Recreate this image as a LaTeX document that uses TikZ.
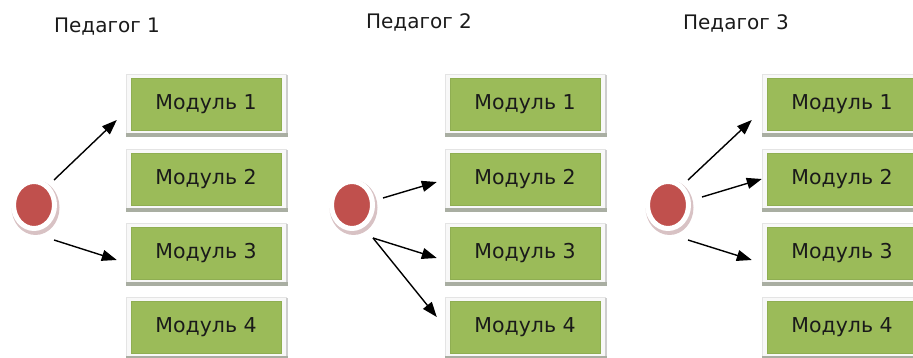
\documentclass[tikz,border=0pt]{standalone}
\usepackage{fontspec}
\setmainfont{DejaVu Sans}
\usetikzlibrary{arrows.meta,shapes.geometric,backgrounds,calc}
\definecolor{modgreen}{HTML}{9BBB59}
\definecolor{modedge}{HTML}{8FAE52}
\definecolor{dotred}{HTML}{C0504D}
\definecolor{txt}{HTML}{1A1A1A}
\definecolor{framefill}{HTML}{F8F8F8}
\definecolor{frameedge}{HTML}{E4E4E4}
\definecolor{barcol}{HTML}{A9AEA2}
\definecolor{sidecol}{HTML}{CDCDCD}
\definecolor{dotshadow}{HTML}{D8C2C4}
\tikzset{
  modbox/.style={rectangle, fill=modgreen, draw=modedge, line width=0.4pt,
    minimum width=150pt, minimum height=52pt, inner sep=0pt,
    font=\fontsize{20.5}{22}\selectfont, text=txt},
  dot/.style={ellipse, fill=dotred, draw=white, line width=5pt,
    minimum width=41pt, minimum height=47pt, inner sep=0pt},
  ttl/.style={font=\fontsize{20}{22}\selectfont, text=txt, inner sep=0pt},
  arr/.style={-{Triangle[length=15pt,width=11pt]}, line width=1.4pt, black}
}
\begin{document}
\begin{tikzpicture}[x=1pt,y=-1pt]
\useasboundingbox (0,0) rectangle (913,358);
% titles
\node[ttl] (t1) at (107,27) {Педагог 1};
\node[ttl] (t2) at (419,22) {Педагог 2};
\node[ttl] (t3) at (736,23) {Педагог 3};
% module boxes
\foreach \c/\x in {1/206,2/525,3/842}{
  \foreach \r/\y in {1/104,2/179,3/253,4/327}{
    \node[modbox] (m\c\r) at (\x,\y) {Модуль \r};
  }
}
% dots
\node[dot] (c1) at (34,205) {};
\node[dot] (c2) at (352,205) {};
\node[dot] (c3) at (668,205) {};
% frames and shadows
\begin{scope}[on background layer]
\foreach \c in {1,2,3}{
  \foreach \r in {1,2,3,4}{
    \fill[framefill, draw=frameedge, line width=0.4pt]
      ($(m\c\r.north west)+(-5,-4)$) rectangle ($(m\c\r.south east)+(5,3)$);
    \fill[sidecol] ($(m\c\r.north east)+(5,-3)$) rectangle ($(m\c\r.south east)+(6.5,7)$);
    \fill[barcol] ($(m\c\r.south west)+(-5,3)$) rectangle ($(m\c\r.south east)+(6.5,7)$);
  }
  \fill[dotshadow] ($(c\c)+(1.5,2.5)$) ellipse [x radius=24pt, y radius=27.5pt];
}
\end{scope}
% arrows
\draw[arr] ($(c1)+(20,-25)$) -- ($(m11.west)+(-14,16)$);
\draw[arr] ($(c1)+(20,35)$) -- ($(m13.west)+(-14,7)$);
\draw[arr] ($(c2)+(31,-7)$) -- ($(m22.west)+(-13,3)$);
\draw[arr] ($(c2)+(21,33)$) -- ($(m23.west)+(-13,5)$);
\draw[arr] ($(c2)+(21,33)$) -- ($(m24.west)+(-13,-10)$);
\draw[arr] ($(c3)+(20,-25)$) -- ($(m31.west)+(-15,16)$);
\draw[arr] ($(c3)+(34,-8)$) -- ($(m32.west)+(-5,0)$);
\draw[arr] ($(c3)+(20,35)$) -- ($(m33.west)+(-15,7)$);
\end{tikzpicture}
\end{document}
